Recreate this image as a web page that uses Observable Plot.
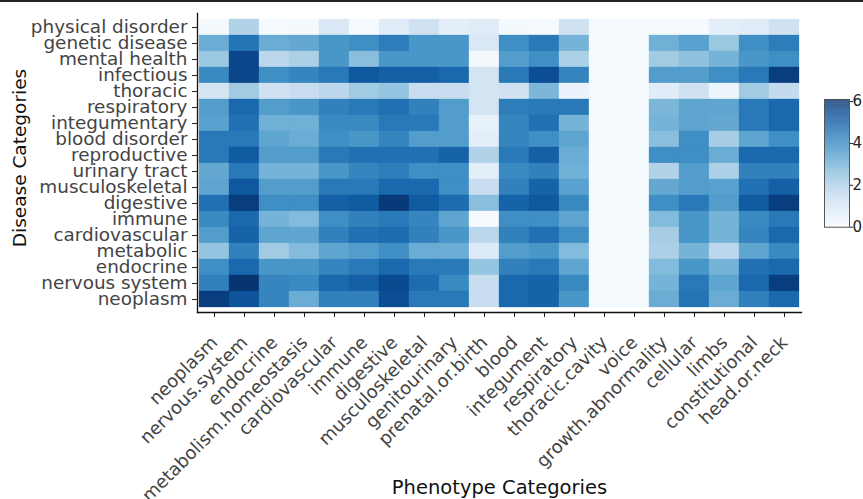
<!DOCTYPE html>
<html>
<head>
<meta charset="utf-8">
<script src="https://cdn.jsdelivr.net/npm/d3@7"></script>
<script src="https://cdn.jsdelivr.net/npm/@observablehq/plot@0.6"></script>
<style>
  html, body { margin: 0; padding: 0; background: #fff; }
  #wrap { position: relative; width: 863px; height: 499px; overflow: hidden; }
  #main { position: absolute; left: 0; top: 0; }
  #bar { position: absolute; left: 800px; top: 90px; }
  #topline { position: absolute; left: 0; top: 0; width: 863px; height: 2px; background: #222; }
</style>
</head>
<body>
<div id="wrap"><div id="main"></div><div id="bar"></div><div id="topline"></div></div>
<script>
const phenotypes = ["neoplasm","nervous.system","endocrine","metabolism.homeostasis","cardiovascular","immune","digestive","musculoskeletal","genitourinary","prenatal.or.birth","blood","integument","respiratory","thoracic.cavity","voice","growth.abnormality","cellular","limbs","constitutional","head.or.neck"];
const diseases = ["physical disorder","genetic disease","mental health","infectious","thoracic","respiratory","integumentary","blood disorder","reproductive","urinary tract","musculoskeletal","digestive","immune","cardiovascular","metabolic","endocrine","nervous system","neoplasm"];
// one row per disease category (same order as diseases), one value per phenotype category
const values = [
  [0.1, 1.9, 0.05, 0.1, 0.9, 0.05, 0.7, 1.2, 0.6, 0.7, 0.1, 0.05, 1.2, 0.05, 0.05, 0.05, 0.05, 0.6, 0.7, 1.2],
  [3.1, 4.5, 3.1, 3.2, 3.7, 3.9, 4.3, 3.7, 3.7, 0.9, 3.9, 4.4, 2.9, 0.05, 0.05, 3.0, 3.4, 2.3, 3.9, 4.3],
  [2.3, 5.6, 1.7, 2.0, 3.7, 2.6, 3.7, 3.7, 3.7, 0.1, 3.5, 3.9, 2.0, 0.05, 0.05, 2.2, 2.5, 2.9, 3.7, 3.9],
  [4.0, 5.6, 3.9, 4.1, 4.4, 5.2, 5.0, 5.0, 4.8, 1.1, 4.4, 5.4, 4.1, 0.05, 0.05, 3.5, 3.5, 3.9, 4.4, 5.8],
  [1.1, 2.2, 1.2, 1.4, 1.7, 2.2, 2.4, 1.4, 1.4, 1.1, 1.2, 2.8, 0.4, 0.05, 0.05, 0.7, 1.2, 0.3, 2.2, 1.5],
  [3.5, 4.8, 3.5, 3.7, 4.2, 4.4, 4.6, 4.2, 3.5, 1.1, 4.3, 4.4, 4.4, 0.05, 0.05, 2.8, 3.3, 3.3, 4.4, 4.8],
  [3.4, 4.6, 3.0, 3.0, 4.0, 4.0, 4.4, 4.4, 3.5, 0.5, 4.1, 4.6, 2.9, 0.05, 0.05, 2.9, 3.3, 3.2, 4.4, 4.8],
  [4.4, 4.4, 3.3, 3.1, 3.9, 3.7, 4.1, 3.5, 3.5, 0.6, 4.1, 3.9, 3.3, 0.05, 0.05, 2.6, 3.9, 2.1, 3.3, 3.9],
  [4.4, 5.1, 3.5, 3.5, 4.4, 4.6, 4.6, 4.6, 4.9, 1.9, 4.4, 5.0, 3.1, 0.05, 0.05, 3.9, 3.9, 3.1, 4.8, 4.8],
  [3.2, 4.4, 2.9, 2.9, 3.7, 4.1, 4.3, 3.9, 3.9, 0.6, 4.0, 4.2, 3.0, 0.05, 0.05, 1.9, 3.5, 2.0, 4.2, 4.2],
  [3.3, 5.2, 3.5, 3.5, 4.4, 4.4, 4.8, 4.8, 3.9, 1.4, 4.2, 4.9, 3.4, 0.05, 0.05, 3.2, 3.5, 3.4, 4.6, 5.0],
  [4.6, 5.8, 3.9, 3.9, 5.0, 5.1, 5.9, 5.1, 4.7, 2.6, 4.9, 5.2, 4.0, 0.05, 0.05, 3.9, 4.4, 3.5, 5.1, 5.8],
  [4.0, 4.8, 2.9, 2.7, 3.9, 4.2, 4.4, 4.1, 3.3, 0.0, 3.9, 3.9, 3.3, 0.05, 0.05, 2.7, 3.7, 2.9, 4.0, 4.4],
  [3.5, 4.9, 3.3, 3.3, 4.2, 4.6, 4.7, 4.2, 3.7, 1.7, 4.2, 4.6, 3.9, 0.05, 0.05, 2.1, 3.7, 2.9, 4.1, 4.8],
  [2.4, 4.2, 2.2, 2.7, 3.3, 3.5, 3.9, 3.1, 3.1, 0.8, 3.5, 3.7, 2.7, 0.05, 0.05, 2.0, 2.9, 1.7, 3.3, 4.0],
  [3.9, 4.8, 3.7, 3.7, 4.1, 4.4, 4.8, 4.4, 4.4, 2.4, 4.2, 4.4, 3.3, 0.05, 0.05, 2.7, 3.7, 2.9, 4.6, 4.8],
  [4.2, 6.0, 4.1, 4.0, 4.8, 5.0, 5.5, 4.7, 4.0, 1.4, 4.8, 4.9, 4.0, 0.05, 0.05, 2.9, 4.4, 3.3, 4.8, 5.8],
  [5.8, 5.3, 4.1, 3.1, 4.2, 4.2, 5.4, 4.4, 4.4, 1.4, 4.8, 4.9, 3.7, 0.05, 0.05, 3.1, 4.5, 3.1, 4.2, 4.8]
];
const colorTicks = [0, 2, 4, 6];
const colorMax = 6.1;

const cells = [];
diseases.forEach((d, i) => phenotypes.forEach((p, j) => cells.push({disease: d, phenotype: p, value: values[i][j]})));

const font = "DejaVu Sans, Verdana, sans-serif";
const colorOpts = {type: "linear", scheme: "blues", domain: [0, colorMax]};

const main = Plot.plot({
  width: 863, height: 499,
  marginLeft: 197, marginRight: 62, marginTop: 13, marginBottom: 187,
  style: {fontFamily: font, background: "transparent"},
  x: {domain: phenotypes, padding: 0},
  y: {domain: diseases, padding: 0},
  color: colorOpts,
  marks: [
    Plot.cell(cells, {x: "phenotype", y: "disease", fill: "value", stroke: "value", strokeWidth: 0.3, inset: 0}),
    // x tick marks only
    Plot.axisX({tickSize: 5, fill: "none", stroke: "#222", label: null}),
    // x tick labels only, rotated
    Plot.axisX({tickRotate: -45, tickSize: 5, tickPadding: 16, dy: 6, fontSize: 18, label: null, fill: "#444", stroke: "none"}),
    Plot.axisY({tickSize: 5, tickPadding: 5, fontSize: 18.4, label: null, color: "#444", stroke: "#222"}),
    Plot.frame({anchor: "left", stroke: "#111", strokeWidth: 1.3}),
    Plot.frame({anchor: "bottom", stroke: "#111", strokeWidth: 1.3}),
    Plot.text(["Disease Categories"], {frameAnchor: "left", textAnchor: "middle", dx: -177, dy: -5, rotate: -90, fontSize: 18.5, fill: "#111"}),
    Plot.text(["Phenotype Categories"], {frameAnchor: "bottom", textAnchor: "middle", dy: 181, fontSize: 19.5, fill: "#111"})
  ]
});
document.getElementById("main").appendChild(main);

const step = colorMax / 200;
const stops = d3.range(0, 200).map(i => i * step);
const bar = Plot.plot({
  width: 63, height: 150,
  marginLeft: 24, marginRight: 14, marginTop: 9, marginBottom: 13.3,
  style: {fontFamily: font, background: "transparent"},
  x: {domain: [0, 1], axis: null},
  y: {domain: [0, colorMax], label: null},
  color: colorOpts,
  marks: [
    Plot.rect(stops, {x1: 0, x2: 1, y1: d => d, y2: d => d + step * 1.05, fill: d => d + step / 2}),
    Plot.frame({stroke: "#555", strokeWidth: 1}),
    Plot.axisY({anchor: "right", ticks: colorTicks, tickSize: 3, tickPadding: 0, fontSize: 15, color: "#222", label: null})
  ]
});
document.getElementById("bar").appendChild(bar);
</script>
</body>
</html>
